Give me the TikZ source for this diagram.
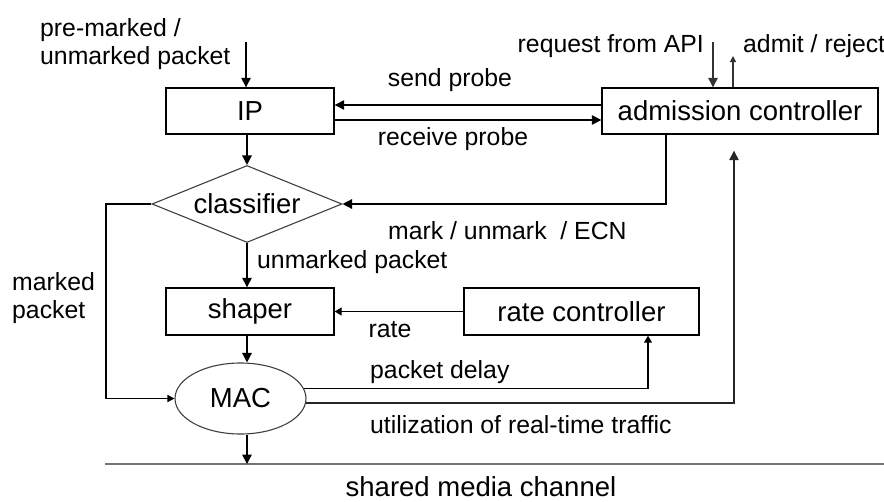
\documentclass[tikz,border=0pt]{standalone}
\usepackage{fontspec}
\setmainfont{Liberation Sans}
\usetikzlibrary{shapes.geometric,arrows.meta}
\begin{document}
\begin{tikzpicture}[x=1pt,y=-1pt,
  ln/.style={line width=1.4pt,black},
  arr/.style={ln,-{Triangle[length=9.5pt,width=9.5pt]}},
  boxstyle/.style={draw,line width=1.4pt,inner sep=0pt,font=\fontsize{27.5}{30}\selectfont},
  lbl/.style={inner sep=0pt,font=\fontsize{24.8}{28.5}\selectfont},
]
\useasboundingbox (0,0) rectangle (884,501);
% nodes
\node[boxstyle,minimum width=168pt,minimum height=46pt] (ip) at (250,111) {IP};
\node[boxstyle,minimum width=276pt,minimum height=46pt] (adm) at (740,111) {admission controller};
\node[boxstyle,diamond,draw=black!75,line width=1.1pt,minimum width=190pt,minimum height=77pt,aspect=2.47] (cls) at (247,204) {classifier};
\node[boxstyle,minimum width=168pt,minimum height=47pt] (sh) at (250,311.5) {shaper};
\node[boxstyle,minimum width=235pt,minimum height=47pt] (rc) at (581.5,311.5) {rate controller};
\node[boxstyle,ellipse,draw=black!75,line width=1.1pt,minimum width=131pt,minimum height=71pt] (mac) at (240.5,398.5) {MAC};
% coordinates
\coordinate (inTop) at (246,42);
\coordinate (reqTop) at (713,42);
\coordinate (admTop) at (733,56);
\coordinate (mkx) at (666,150);
\coordinate (mpx) at (106,300);
\coordinate (pdx) at (648,350);
\coordinate (utx) at (734,300);
\coordinate (chL) at (105,464);
\coordinate (chR) at (884,464);
% channel
\draw[line width=1.3pt,black!55] (chL) -- (chR);
\node[lbl,font=\fontsize{27.5}{30}\selectfont] (chlbl) at (481,487) {shared media channel};
% vertical chain
\draw[arr] (inTop) -- (inTop |- ip.north);
\draw[arr] (ip.south -| cls.north) -- (cls.north);
\draw[arr] (cls.south) -- (cls.south |- sh.north);
\draw[arr] (sh.south -| cls.south) -- (cls.south |- mac.north);
\draw[arr] (mac.south -| cls.south) -- (cls.south |- chL);
% probes
\draw[arr] ([yshift=6pt]adm.west) -- ([yshift=6pt]ip.east);
\draw[arr] ([yshift=-9pt]ip.east) -- ([yshift=-9pt]adm.west);
% API
\draw[arr,line width=1.2pt,black!80] (reqTop) -- (reqTop |- adm.north);
\draw[line width=1.2pt,black!80,-{Triangle[length=6pt,width=6pt]}] (admTop |- adm.north) -- (admTop);
% mark/unmark
\draw[arr] (adm.south -| mkx) |- (cls.east);
% marked packet
\draw[arr,-{Triangle[length=7pt,width=7pt]}] (cls.west) -| (mpx) |- (mac.west);
% rate
\draw[arr,-{Triangle[length=7pt,width=8pt]}] (rc.west) -- (sh.east);
% packet delay
\draw[arr,-{Triangle[length=7pt,width=8pt]}] (mac.9.5) -| (rc.south -| pdx);
% utilization
\draw[arr,line width=1.3pt,black!85,shorten >=16pt] (mac.-4) -| (adm.south -| utx);
% labels
\node[lbl,anchor=west,align=left] (lin) at (40,44) {pre-marked /\\unmarked packet};
\node[lbl] (lsend) at (450,80) {send probe};
\node[lbl] (lrecv) at (453,139) {receive probe};
\node[lbl,anchor=east] (lreq) at (704,46) {request from API};
\node[lbl,anchor=west] (ladm) at (743,46) {admit / reject};
\node[lbl,anchor=west] (lmark) at (388,231) {mark / unmark \ / ECN};
\node[lbl,anchor=west] (lunm) at (257,262) {unmarked packet};
\node[lbl,anchor=west,align=left] (lmp) at (12,298) {marked\\packet};
\node[lbl] (lrate) at (390,330) {rate};
\node[lbl,anchor=west] (lpd) at (370,372) {packet delay};
\node[lbl,anchor=west] (lut) at (370,425) {utilization of real-time traffic};
\end{tikzpicture}
\end{document}
